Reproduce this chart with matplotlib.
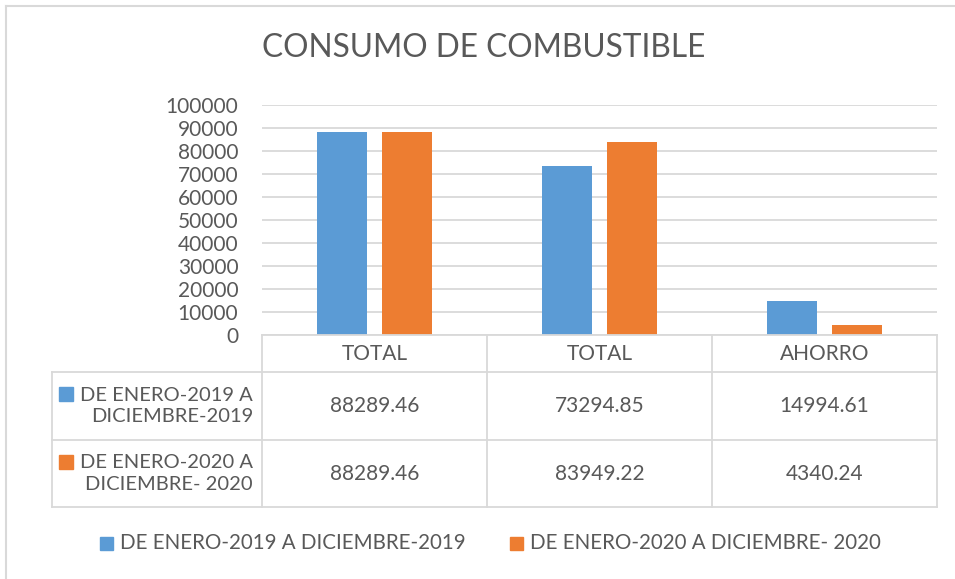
import matplotlib.pyplot as plt
import matplotlib.transforms as mtransforms
from matplotlib.lines import Line2D
from matplotlib.patches import Rectangle
import numpy as np

plt.rcParams['font.family'] = ['Lato', 'DejaVu Sans']

# datos
categorias = ['TOTAL', 'TOTAL', 'AHORRO']
serie_2019 = [88289.46, 73294.85, 14994.61]
serie_2020 = [88289.46, 83949.22, 4340.24]
nombre_2019 = 'DE ENERO-2019 A DICIEMBRE-2019'
nombre_2020 = 'DE ENERO-2020 A DICIEMBRE- 2020'
filas_tabla = ['DE ENERO-2019 A\nDICIEMBRE-2019', 'DE ENERO-2020 A\nDICIEMBRE- 2020']

azul = '#5b9bd5'
naranja = '#ed7d31'
gris_texto = '#595959'
gris_linea = '#d9d9d9'

W, H = 955, 579
fig = plt.figure(figsize=(W / 100, H / 100), dpi=100)

def fy(p):
    return 1 - p / H

def fx(p):
    return p / W

ax = fig.add_axes([fx(262), fy(335), fx(937) - fx(262), fy(105) - fy(335)])
x = np.arange(len(categorias))
ancho = 0.222
ax.bar(x - 0.143, serie_2019, ancho, color=azul)
ax.bar(x + 0.143, serie_2020, ancho, color=naranja)
ax.set_xlim(-0.5, 2.5)
ax.set_ylim(0, 100000)
ax.set_yticks(np.arange(0, 100001, 10000))
ax.yaxis.grid(True, color=gris_linea, lw=1.3)
ax.set_axisbelow(True)
for s in ax.spines.values():
    s.set_visible(False)
ax.set_xticks([])
ax.tick_params(axis='y', length=0, labelsize=15, labelcolor=gris_texto, pad=17)

fig.text(fx(484), fy(48), 'CONSUMO DE COMBUSTIBLE', ha='center', va='center',
         fontsize=22.8, color=gris_texto)

# tabla de datos
tr = mtransforms.blended_transform_factory(ax.transData, fig.transFigure)
y_top, y_h, y_r1, y_r2 = fy(335), fy(372), fy(440), fy(507)
x_izq = -0.5 - (261 - 51) / 225
lw = 1.3
tam = 15

def linea(xs, ys):
    fig.add_artist(Line2D(xs, ys, transform=tr, color=gris_linea, lw=lw))

linea([-0.5, 2.5], [y_top, y_top])
linea([x_izq, 2.5], [y_h, y_h])
linea([x_izq, 2.5], [y_r1, y_r1])
linea([x_izq, 2.5], [y_r2, y_r2])
for xv in [-0.5, 0.5, 1.5, 2.5]:
    linea([xv, xv], [y_top, y_r2])
linea([x_izq, x_izq], [y_h, y_r2])

for i, c in enumerate(categorias):
    fig.text(i, (y_top + y_h) / 2, c, transform=tr, ha='center', va='center',
             fontsize=tam, color=gris_texto)
    fig.text(i, (y_h + y_r1) / 2, f'{serie_2019[i]:.2f}', transform=tr,
             ha='center', va='center', fontsize=tam, color=gris_texto)
    fig.text(i, (y_r1 + y_r2) / 2, f'{serie_2020[i]:.2f}', transform=tr,
             ha='center', va='center', fontsize=tam, color=gris_texto)

for fila, col, yc in [(filas_tabla[0], azul, (y_h + y_r1) / 2),
                      (filas_tabla[1], naranja, (y_r1 + y_r2) / 2)]:
    fig.text(fx(253), yc, fila, ha='right', va='center', fontsize=14.5,
             color=gris_texto, linespacing=1.3)
    fig.add_artist(Rectangle((fx(59), yc + 0.0085), fx(14), 14 / H,
                             transform=fig.transFigure, color=col))

# leyenda
fig.add_artist(Rectangle((fx(100), fy(550)), fx(13), 13 / H,
                         transform=fig.transFigure, color=azul))
fig.text(fx(120), fy(543), nombre_2019, ha='left', va='center', fontsize=14.8,
         color=gris_texto)
fig.add_artist(Rectangle((fx(510), fy(550)), fx(13), 13 / H,
                         transform=fig.transFigure, color=naranja))
fig.text(fx(530), fy(543), nombre_2020, ha='left', va='center', fontsize=14.8,
         color=gris_texto)

# borde del grafico
fig.add_artist(Line2D([fx(6), 1], [fy(6), fy(6)], transform=fig.transFigure,
                      color=gris_linea, lw=1.5))
fig.add_artist(Line2D([fx(6), fx(6)], [fy(6), 0], transform=fig.transFigure,
                      color=gris_linea, lw=1.5))

fig.savefig('out.png', dpi=100)
